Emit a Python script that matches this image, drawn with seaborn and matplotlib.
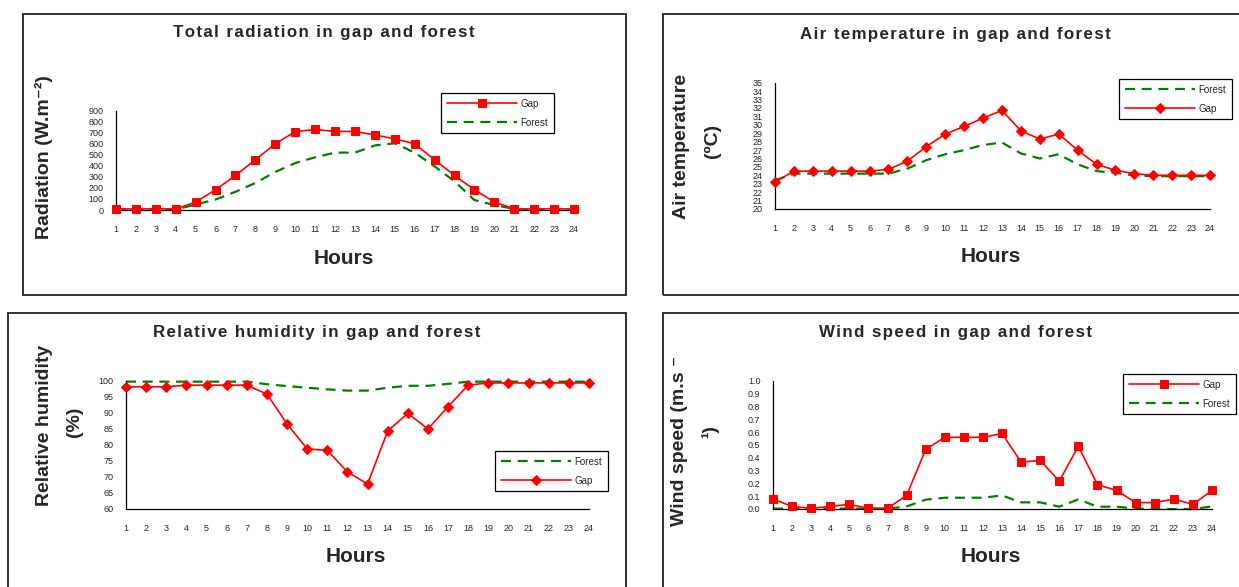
import pandas as pd
import matplotlib.pyplot as plt
import seaborn as sns
from matplotlib.patches import Rectangle

# Data
hours = list(range(1, 25))

rad_gap = [10, 10, 10, 10, 72, 183, 313, 455, 600, 710, 730, 712,
           712, 680, 645, 600, 455, 313, 183, 72, 10, 10, 10, 10]
rad_forest = [5, 5, 5, 5, 50, 95, 165, 245, 345, 425, 478, 520,
              520, 585, 605, 520, 395, 260, 90, 45, 10, 5, 5, 5]

temp_gap = [23.2, 24.5, 24.5, 24.5, 24.5, 24.5, 24.7, 25.7, 27.4, 28.9, 29.8, 30.8,
            31.7, 29.3, 28.3, 28.9, 27.0, 25.3, 24.6, 24.2, 24.0, 24.0, 24.0, 24.0]
temp_forest = [23.4, 24.2, 24.2, 24.2, 24.2, 24.2, 24.2, 24.8, 25.8, 26.5, 27.0, 27.6,
               27.9, 26.6, 26.0, 26.5, 25.3, 24.5, 24.3, 24.0, 23.9, 23.9, 23.9, 23.9]

rh_forest = [99.8, 99.8, 99.8, 99.8, 99.8, 99.8, 99.8, 99.0, 98.4, 97.9, 97.4, 97.0,
             97.0, 97.9, 98.5, 98.5, 99.1, 99.8, 99.8, 99.8, 99.8, 99.8, 99.8, 99.8]
rh_gap = [98.2, 98.2, 98.2, 98.7, 98.7, 98.7, 98.7, 95.9, 86.6, 78.8, 78.3, 71.6,
          67.8, 84.4, 89.9, 85.0, 92.0, 98.7, 99.4, 99.4, 99.4, 99.4, 99.4, 99.4]

wind_gap = [0.078, 0.02, 0.005, 0.02, 0.036, 0.005, 0.005, 0.106, 0.465, 0.56, 0.56, 0.56,
            0.59, 0.366, 0.38, 0.218, 0.49, 0.19, 0.145, 0.05, 0.05, 0.078, 0.036, 0.145]
wind_forest = [0.003, 0.003, 0.003, 0.003, 0.003, 0.003, 0.003, 0.02, 0.073, 0.088, 0.088, 0.088,
               0.106, 0.052, 0.052, 0.018, 0.075, 0.018, 0.018, 0.003, 0.0, 0.0, 0.0, 0.02]

sns.set_theme(style='white')
plt.rcParams['font.family'] = ['Liberation Sans', 'DejaVu Sans']

W, H = 1239, 587
fig = plt.figure(figsize=(W / 100, H / 100), dpi=100)


def rect(x0, y0, x1, y1):
    return [x0 / W, 1 - y1 / H, (x1 - x0) / W, (y1 - y0) / H]


def spaced(s):
    # Excel-like letter spacing for the titles
    return '\u200a'.join(s)


# panel frames
for x0, y0, x1, y1 in [(23, 14.5, 626, 295), (663, 14.5, 1250, 295),
                       (8, 313, 626, 600), (663, 313, 1250, 600)]:
    fig.add_artist(Rectangle((x0 / W, 1 - y1 / H), (x1 - x0) / W, (y1 - y0) / H,
                             transform=fig.transFigure, fill=False,
                             edgecolor='#222222', linewidth=1.3))

RED = '#FF0000'
GREEN = '#008000'
DASH = (0, (4.5, 3))


def draw_gap(ax, y, marker, ms):
    sns.lineplot(x=hours, y=y, ax=ax, color=RED, marker=marker, markersize=ms,
                 markeredgecolor=RED, linewidth=1.2, label='Gap', clip_on=False, zorder=3)


def draw_forest(ax, y):
    sns.lineplot(x=hours, y=y, ax=ax, color=GREEN, linestyle=DASH,
                 linewidth=1.6, label='Forest', clip_on=False, zorder=2)


def style_axis(ax, ylim, yticks, fmt=None):
    ax.set_xlim(1, 24)
    ax.set_ylim(*ylim)
    ax.set_xticks(hours)
    ax.set_yticks(yticks)
    if fmt:
        ax.set_yticklabels([fmt % v for v in yticks])
    sns.despine(ax=ax)
    for s in ['left', 'bottom']:
        ax.spines[s].set_color('black')
        ax.spines[s].set_linewidth(0.9)
    ax.tick_params(axis='both', direction='out', length=3, width=0.8,
                   labelsize=6.5, color='black')
    ax.tick_params(axis='x', pad=8)
    ax.tick_params(axis='y', pad=6)
    ax.set_xlabel('')
    ax.set_ylabel('')
    ax.patch.set_alpha(0)


def legend(ax, x0, y0):
    leg = ax.legend(loc='upper left', bbox_to_anchor=(x0 / W, 1 - y0 / H),
                    bbox_transform=fig.transFigure, frameon=True, fancybox=False,
                    edgecolor='black', framealpha=1, fontsize=7, handlelength=7.2,
                    handletextpad=0.4, borderpad=0.6, labelspacing=0.9,
                    borderaxespad=0)
    leg.get_frame().set_linewidth(0.9)


# --- Total radiation ---
ax1 = fig.add_axes(rect(116, 110.7, 574, 210))
draw_gap(ax1, rad_gap, 's', 5.5)
draw_forest(ax1, rad_forest)
style_axis(ax1, (0, 900), list(range(0, 901, 100)))
legend(ax1, 441, 93)

# --- Air temperature ---
ax2 = fig.add_axes(rect(775, 82.7, 1210, 209))
draw_forest(ax2, temp_forest)
draw_gap(ax2, temp_gap, 'D', 5)
style_axis(ax2, (20, 35), list(range(20, 36)))
legend(ax2, 1119, 79)

# --- Relative humidity ---
ax3 = fig.add_axes(rect(126, 381, 589, 509))
draw_forest(ax3, rh_forest)
draw_gap(ax3, rh_gap, 'D', 5)
style_axis(ax3, (60, 100), list(range(60, 101, 5)))
legend(ax3, 495, 451)

# --- Wind speed ---
ax4 = fig.add_axes(rect(773, 381, 1212, 509))
draw_gap(ax4, wind_gap, 's', 5.5)
draw_forest(ax4, wind_forest)
style_axis(ax4, (0, 1.0), [i / 10 for i in range(11)], '%.1f')
legend(ax4, 1123, 374)

# titles
tkw = dict(ha='center', va='center', fontsize=12.2, fontweight='bold')
fig.text(324 / W, 1 - 33 / H, spaced('Total radiation in gap and forest'), **tkw)
fig.text(955 / W, 1 - 34 / H, spaced('Air temperature in gap and forest'), **tkw)
fig.text(317 / W, 1 - 333 / H, spaced('Relative humidity in gap and forest'), **tkw)
fig.text(956 / W, 1 - 333 / H, spaced('Wind speed in gap and forest'), **tkw)

# x labels
hkw = dict(ha='center', va='center', fontsize=15, fontweight='bold')
for cx, cy in [(344, 258), (991, 256), (356, 557), (991, 556)]:
    fig.text(cx / W, 1 - cy / H, 'Hours', **hkw)

# y labels
ykw = dict(ha='center', va='center', fontsize=14, fontweight='bold', rotation=90)
fig.text(44 / W, 1 - 157 / H, 'Radiation (W.m\u207b\u00b2)', **ykw)
fig.text(681 / W, 1 - 146 / H, 'Air temperature', **ykw)
fig.text(712 / W, 1 - 141 / H, '(\u00baC)', **ykw)
fig.text(45 / W, 1 - 425 / H, 'Relative humidity', **ykw)
fig.text(74 / W, 1 - 422 / H, '(%)', **ykw)
fig.text(680 / W, 1 - 441 / H, 'Wind speed (m.s \u207b', **ykw)
fig.text(710 / W, 1 - 432 / H, '\u00b9)', **ykw)

fig.savefig('out.png', dpi=100, facecolor='white')
